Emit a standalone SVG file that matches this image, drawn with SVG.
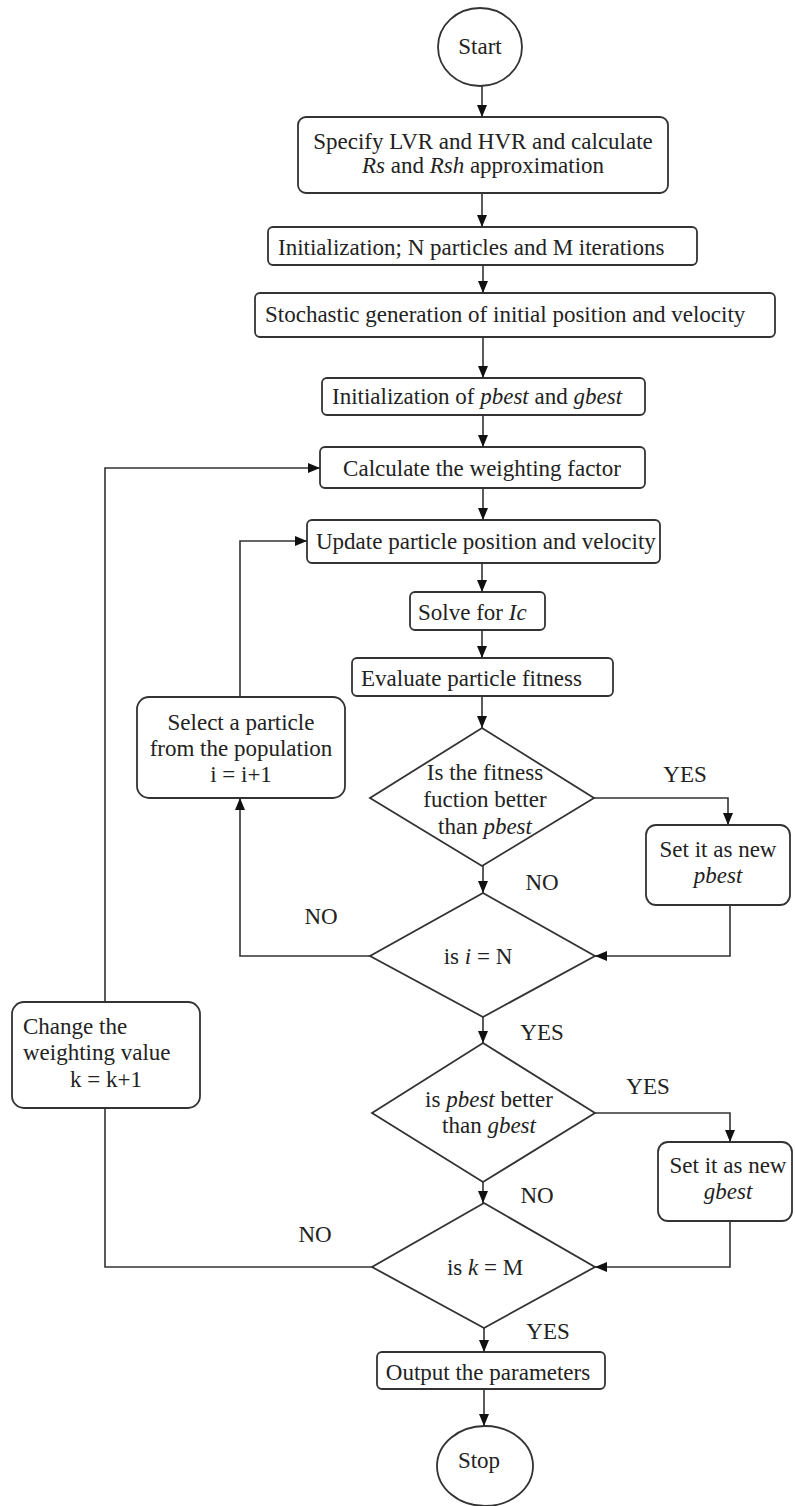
<svg xmlns="http://www.w3.org/2000/svg" width="795" height="1506" viewBox="0 0 795 1506">
<style>
.n{fill:#fff;stroke:#333;stroke-width:1.8}
.t{font-family:"Liberation Serif","Times New Roman",serif;font-size:23px;fill:#222}
.c{text-anchor:middle}
.i{font-style:italic}
.e{fill:none;stroke:#333;stroke-width:1.6}
</style>
<defs>
<marker id="a" markerUnits="userSpaceOnUse" markerWidth="12" markerHeight="12" viewBox="0 0 12 10" refX="12" refY="5" orient="auto"><path d="M0,0 L12,5 L0,10 Z" fill="#111"/></marker>
</defs>
<rect width="795" height="1506" fill="#fff"/>
<g id="start"><ellipse class="n" cx="480" cy="47" rx="42" ry="39"/><text class="t c" x="480" y="54">Start</text></g>
<g id="specify"><rect class="n" x="298" y="117" width="370" height="76" rx="8"/><text class="t c" x="483" y="149">Specify LVR and HVR and calculate</text><text class="t c" x="483" y="173"><tspan class="i">Rs</tspan> and <tspan class="i">Rsh</tspan> approximation</text></g>
<g id="init"><rect class="n" x="268" y="227" width="429" height="38" rx="5"/><text class="t" x="278" y="255">Initialization; N particles and M iterations</text></g>
<g id="stochastic"><rect class="n" x="255" y="293" width="520" height="44" rx="5"/><text class="t" x="265" y="322">Stochastic generation of initial position and velocity</text></g>
<g id="initbest"><rect class="n" x="322" y="378" width="323" height="37" rx="5"/><text class="t" x="332" y="404">Initialization of <tspan class="i">pbest</tspan> and <tspan class="i">gbest</tspan></text></g>
<g id="weight"><rect class="n" x="320" y="447" width="325" height="41" rx="5"/><text class="t c" x="482" y="476">Calculate the weighting factor</text></g>
<g id="update"><rect class="n" x="307" y="520" width="353" height="43" rx="5"/><text class="t" x="316" y="549">Update particle position and velocity</text></g>
<g id="solve"><rect class="n" x="410" y="592" width="135" height="38" rx="5"/><text class="t" x="418" y="620">Solve for <tspan class="i">Ic</tspan></text></g>
<g id="evaluate"><rect class="n" x="352" y="658" width="261" height="38" rx="5"/><text class="t" x="361" y="686">Evaluate particle fitness</text></g>
<g id="d1"><polygon class="n" points="482,728 594,798 482,866 370,798"/><text class="t c" x="485" y="780">Is the fitness</text><text class="t c" x="485" y="807">fuction better</text><text class="t c" x="485" y="834">than <tspan class="i">pbest</tspan></text></g>
<g id="select"><rect class="n" x="137" y="697" width="208" height="101" rx="12"/><text class="t c" x="241" y="730">Select a particle</text><text class="t c" x="241" y="756">from the population</text><text class="t c" x="241" y="782">i = i+1</text></g>
<g id="setp"><rect class="n" x="646" y="825" width="144" height="80" rx="10"/><text class="t c" x="718" y="857">Set it as new</text><text class="t c i" x="718" y="883">pbest</text></g>
<g id="d2"><polygon class="n" points="483,893 595,956 483,1017 370,956"/><text class="t c" x="478" y="964">is <tspan class="i">i</tspan> = N</text></g>
<g id="change"><rect class="n" x="12" y="1002" width="188" height="106" rx="12"/><text class="t" x="23" y="1034">Change the</text><text class="t" x="23" y="1060">weighting value</text><text class="t" x="70" y="1087">k = k+1</text></g>
<g id="d3"><polygon class="n" points="483,1043 595,1113 483,1182 372,1113"/><text class="t c" x="489" y="1107">is <tspan class="i">pbest</tspan> better</text><text class="t c" x="489" y="1133">than <tspan class="i">gbest</tspan></text></g>
<g id="setg"><rect class="n" x="658" y="1142" width="134" height="79" rx="10"/><text class="t c" x="728" y="1173">Set it as new</text><text class="t c i" x="728" y="1199">gbest</text></g>
<g id="d4"><polygon class="n" points="484,1203 595,1267 484,1328 372,1267"/><text class="t c" x="485" y="1275">is <tspan class="i">k</tspan> = M</text></g>
<g id="output"><rect class="n" x="377" y="1352" width="228" height="37" rx="5"/><text class="t c" x="488" y="1380">Output the parameters</text></g>
<g id="stop"><ellipse class="n" cx="485" cy="1466" rx="48" ry="40"/><text class="t c" x="479" y="1468">Stop</text></g>
<g id="connectors">
<path class="e" marker-end="url(#a)" d="M482,86 V117"/>
<path class="e" marker-end="url(#a)" d="M482,193 V227"/>
<path class="e" marker-end="url(#a)" d="M483,265 V293"/>
<path class="e" marker-end="url(#a)" d="M483,337 V378"/>
<path class="e" marker-end="url(#a)" d="M483,415 V447"/>
<path class="e" marker-end="url(#a)" d="M483,488 V520"/>
<path class="e" marker-end="url(#a)" d="M482,563 V592"/>
<path class="e" marker-end="url(#a)" d="M482,630 V658"/>
<path class="e" marker-end="url(#a)" d="M482,696 V728"/>
<path class="e" marker-end="url(#a)" d="M483,866 V893"/>
<path class="e" marker-end="url(#a)" d="M594,798 H728 V825"/>
<path class="e" marker-end="url(#a)" d="M730,905 V956 H595"/>
<path class="e" marker-end="url(#a)" d="M370,956 H240 V798"/>
<path class="e" marker-end="url(#a)" d="M240,697 V541 H307"/>
<path class="e" marker-end="url(#a)" d="M483,1017 V1043"/>
<path class="e" marker-end="url(#a)" d="M595,1113 H730 V1142"/>
<path class="e" marker-end="url(#a)" d="M483,1182 V1203"/>
<path class="e" marker-end="url(#a)" d="M730,1221 V1267 H595"/>
<path class="e" d="M372,1267 H105 V1108"/>
<path class="e" marker-end="url(#a)" d="M105,1002 V468 H320"/>
<path class="e" marker-end="url(#a)" d="M484,1328 V1352"/>
<path class="e" marker-end="url(#a)" d="M484,1389 V1426"/>
<text class="t c" x="685" y="782">YES</text>
<text class="t c" x="542" y="890">NO</text>
<text class="t c" x="321" y="924">NO</text>
<text class="t c" x="542" y="1040">YES</text>
<text class="t c" x="648" y="1094">YES</text>
<text class="t c" x="537" y="1203">NO</text>
<text class="t c" x="315" y="1242">NO</text>
<text class="t c" x="548" y="1339">YES</text>
</g>
</svg>
